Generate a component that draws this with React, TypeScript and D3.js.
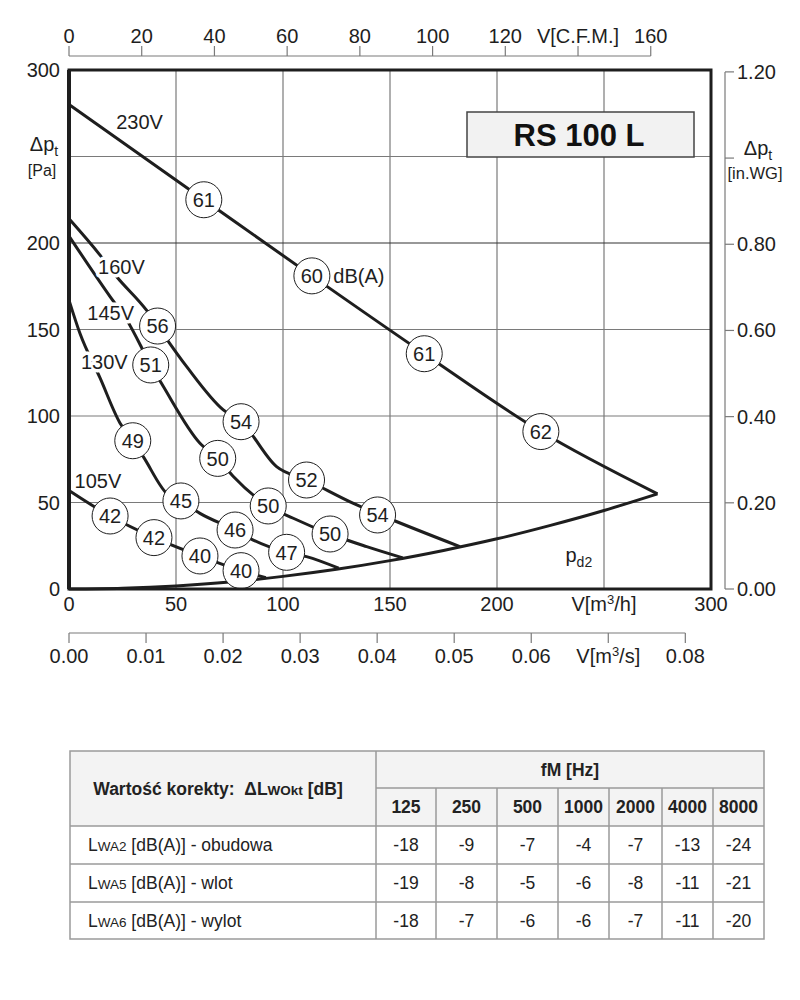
import * as d3 from 'd3'

// characteristic curves, V [m3/h] vs dp [Pa]
const curve230 = [[0, 280], [63, 225], [113.5, 181], [166, 136], [220.5, 91], [275, 55]]
const curve160 = [[0, 214], [14.5, 193], [22.3, 180.5], [36.3, 161], [41.4, 152], [55, 128.5], [72.1, 103.5], [80.4, 96.7], [97, 70.7], [111, 63], [132.9, 49.5], [144.2, 43.5], [182.7, 24.5]]
const curve145 = [[0, 204], [19.2, 169], [27, 155.5], [38.2, 129.5], [44.1, 117], [61.2, 84.2], [69.5, 75.5], [76.8, 65], [93.1, 48], [104.8, 40.9], [122, 31.8], [139.1, 24.5], [156, 18]]
const curve130 = [[0, 167], [5.1, 147.8], [14.5, 122], [23.8, 96], [29.8, 85.7], [34.7, 76.5], [45.6, 55.3], [52.3, 50.9], [61.2, 43.7], [77.6, 34.1], [86.1, 28.3], [101.7, 21.2], [111, 18.7], [126, 12]]
const curve105 = [[0, 57], [19.2, 42.2], [39.7, 29.7], [61.2, 19.1], [80.4, 10.6], [92, 6.5]]
const curvePd2 = [[0, 0], [25, 0.5], [50, 1.8], [75, 4], [100, 7.3], [125, 11.4], [150, 16.4], [175, 22.3], [200, 29], [225, 36.8], [250, 45.4], [275, 55]]

// noise markers [V, dp, dB(A)]
const markers230 = [[63, 225, 61], [113.5, 181, 60], [166, 136, 61], [220.5, 91, 62]]
const markers160 = [[41.4, 152, 56], [80.4, 96.7, 54], [111, 63, 52], [144.2, 42.8, 54]]
const markers145 = [[38.2, 129.5, 51], [69.5, 75.5, 50], [93.1, 48, 50], [122, 31.8, 50]]
const markers130 = [[29.8, 85.7, 49], [52.3, 50.9, 45], [77.6, 34.1, 46], [101.7, 21.2, 47]]
const markers105 = [[19.2, 42.2, 42], [39.7, 29.7, 42], [61.2, 19.1, 40], [80.4, 10.6, 40]]

// voltage labels [text, V, dp, knockout]
const voltLabels: [string, number, number, boolean][] = [
  ['230V', 33, 270, false],
  ['160V', 24.5, 186, true],
  ['145V', 19.5, 159.5, true],
  ['130V', 16.5, 131.5, true],
  ['105V', 13.5, 62.5, false],
]

const xTicks = [0, 50, 100, 150, 200, 250, 300]
const yTicks = [0, 50, 100, 150, 200, 250, 300]
const cfmTicks = [0, 20, 40, 60, 80, 100, 120, 140, 160]
const m3sTicks = [0, 0.01, 0.02, 0.03, 0.04, 0.05, 0.06, 0.07, 0.08]
const inwgTicks = [0, 0.2, 0.4, 0.6, 0.8, 1.0, 1.2]

// octave correction table
const freqs = ['125', '250', '500', '1000', '2000', '4000', '8000']
const rowNames = [['WA2', ' [dB(A)] - obudowa'], ['WA5', ' [dB(A)] - wlot'], ['WA6', ' [dB(A)] - wylot']]
const lwa2 = [-18, -9, -7, -4, -7, -13, -24]
const lwa5 = [-19, -8, -5, -6, -8, -11, -21]
const lwa6 = [-18, -7, -6, -6, -7, -11, -20]

const FONT = 'Liberation Sans, Arial, Helvetica, sans-serif'
const INK = '#1e1e1e'
const GRID = '#7a7a7a'
const FS = 20

export default function App() {
  const left = 69, right = 711, top = 70, bottom = 589
  const x = d3.scaleLinear().domain([0, 300]).range([left, right])
  const y = d3.scaleLinear().domain([0, 300]).range([bottom, top])
  const xCfm = d3.scaleLinear().domain([0, 300 / 1.699]).range([left, right])
  const xM3s = d3.scaleLinear().domain([0, 300 / 3600]).range([left, right])
  const yIn = d3.scaleLinear().domain([0, 300 / 249.09]).range([bottom, top])

  const line = d3.line<number[]>()
    .x(d => x(d[0]))
    .y(d => y(d[1]))
    .curve(d3.curveMonotoneX)

  const curves = [curvePd2, curve105, curve130, curve145, curve160, curve230]
  const markers = [...markers230, ...markers160, ...markers145, ...markers130, ...markers105]

  const topAxisY = 56
  const m3sAxisY = 633
  const rightAxisX = 725

  // table geometry
  const colEdges = [70, 376, 436, 497, 558, 609, 662, 713, 764]
  const rowEdges = [751, 788, 826, 864, 902, 939]
  const tableRows = [lwa2, lwa5, lwa6]
  const TFS = 17.5

  return (
    <svg width={800} height={1000} style={{ position: 'absolute', left: 0, top: 0, background: '#fff' }} fontFamily={FONT}>
      {/* grid */}
      {xTicks.slice(1, -1).map(t => (
        <line key={'gx' + t} x1={x(t)} x2={x(t)} y1={top} y2={bottom} stroke={GRID} strokeWidth={1.2} />
      ))}
      {yTicks.slice(1, -1).map(t => (
        <line key={'gy' + t} x1={left} x2={right} y1={y(t)} y2={y(t)} stroke={t === 200 ? '#333' : GRID} strokeWidth={1.2} />
      ))}

      {/* title box */}
      <rect x={467} y={112} width={227} height={45} fill="#f2f2f2" stroke="#444" strokeWidth={1.5} />
      <text x={579} y={135} dy="0.36em" textAnchor="middle" fontSize={31} fontWeight="bold" fill="#111">RS 100 L</text>

      {/* curves */}
      {curves.map((c, i) => (
        <path key={'c' + i} d={line(c) || ''} fill="none" stroke={INK} strokeWidth={3} strokeLinejoin="round" />
      ))}

      {/* voltage labels */}
      {voltLabels.map(([t, v, p, ko]) => (
        <text key={t} x={x(v)} y={y(p)} dy="0.35em" textAnchor="middle" fontSize={FS} fill={INK}
          stroke={ko ? '#fff' : 'none'} strokeWidth={ko ? 7 : 0} strokeLinejoin="round"
          style={{ paintOrder: 'stroke' }}>{t}</text>
      ))}

      {/* noise markers */}
      {markers.map(([v, p, db], i) => (
        <g key={'m' + i}>
          <circle cx={x(v)} cy={y(p)} r={18} fill="#fff" stroke={INK} strokeWidth={1} />
          <text x={x(v)} y={y(p)} dy="0.36em" textAnchor="middle" fontSize={FS} fill={INK}>{db}</text>
        </g>
      ))}
      <text x={x(123.5)} y={y(181)} dy="0.35em" fontSize={FS} fill={INK}>dB(A)</text>
      <text x={x(232)} y={y(15.5)} fontSize={FS} fill={INK}>p<tspan fontSize={14} dy={5}>d2</tspan></text>

      {/* frame */}
      <rect x={left} y={top} width={right - left} height={bottom - top} fill="none" stroke={INK} strokeWidth={3} />
      <line x1={left} x2={left} y1={top} y2={bottom} stroke={INK} strokeWidth={4} />

      {/* left axis labels */}
      {yTicks.filter(t => t !== 250).map(t => (
        <text key={'yl' + t} x={60} y={y(t)} dy="0.35em" textAnchor="end" fontSize={FS} fill={INK}>{t}</text>
      ))}
      <text x={44} y={144} dy="0.35em" textAnchor="middle" fontSize={FS} fill={INK}>Δp<tspan fontSize={14} dy={5}>t</tspan></text>
      <text x={42} y={170} dy="0.35em" textAnchor="middle" fontSize={16} fill={INK}>[Pa]</text>

      {/* bottom m3/h labels */}
      {xTicks.map(t => (
        <text key={'xl' + t} x={x(t)} y={604} dy="0.35em" textAnchor="middle" fontSize={FS} fill={INK}>
          {t === 250 ? <>V[m<tspan fontSize={13} dy={-7}>3</tspan><tspan dy={7}>/h]</tspan></> : t}
        </text>
      ))}

      {/* top CFM axis */}
      <line x1={xCfm(0)} x2={xCfm(160)} y1={topAxisY} y2={topAxisY} stroke={GRID} strokeWidth={1.2} />
      {cfmTicks.map(t => (
        <g key={'cf' + t}>
          <line x1={xCfm(t)} x2={xCfm(t)} y1={topAxisY} y2={topAxisY - 10} stroke={GRID} strokeWidth={1.2} />
          <text x={xCfm(t)} y={36} dy="0.35em" textAnchor="middle" fontSize={FS} fill={INK}>{t === 140 ? 'V[C.F.M.]' : t}</text>
        </g>
      ))}

      {/* bottom m3/s axis */}
      <line x1={xM3s(0)} x2={xM3s(0.08)} y1={m3sAxisY} y2={m3sAxisY} stroke={GRID} strokeWidth={1.2} />
      {m3sTicks.map(t => (
        <g key={'ms' + t}>
          <line x1={xM3s(t)} x2={xM3s(t)} y1={m3sAxisY} y2={m3sAxisY + 10} stroke={GRID} strokeWidth={1.2} />
          <text x={xM3s(t)} y={656} dy="0.35em" textAnchor="middle" fontSize={FS} fill={INK}>
            {Math.abs(t - 0.07) < 1e-9 ? <>V[m<tspan fontSize={13} dy={-7}>3</tspan><tspan dy={7}>/s]</tspan></> : t.toFixed(2)}
          </text>
        </g>
      ))}

      {/* right in.WG axis */}
      <line x1={rightAxisX} x2={rightAxisX} y1={yIn(1.2)} y2={yIn(0)} stroke={GRID} strokeWidth={1.2} />
      {inwgTicks.map(t => (
        <g key={'iw' + t}>
          <line x1={rightAxisX} x2={rightAxisX + 9} y1={yIn(t)} y2={yIn(t)} stroke={GRID} strokeWidth={1.2} />
          {Math.abs(t - 1.0) > 1e-9 && (
            <text x={rightAxisX + 12} y={yIn(t)} dy="0.35em" fontSize={FS} fill={INK}>{t.toFixed(2)}</text>
          )}
        </g>
      ))}
      <text x={758} y={148} dy="0.35em" textAnchor="middle" fontSize={FS} fill={INK}>Δp<tspan fontSize={14} dy={5}>t</tspan></text>
      <text x={755} y={173} dy="0.35em" textAnchor="middle" fontSize={16.5} fill={INK}>[in.WG]</text>

      {/* table */}
      <rect x={colEdges[0]} y={rowEdges[0]} width={colEdges[8] - colEdges[0]} height={rowEdges[2] - rowEdges[0]} fill="#f3f3f3" />
      <g stroke="#9a9a9a" strokeWidth={1.5} fill="none">
        <rect x={colEdges[0]} y={rowEdges[0]} width={colEdges[8] - colEdges[0]} height={rowEdges[5] - rowEdges[0]} />
        <line x1={colEdges[1]} x2={colEdges[8]} y1={rowEdges[1]} y2={rowEdges[1]} />
        {rowEdges.slice(2, 5).map(r => (
          <line key={'rl' + r} x1={colEdges[0]} x2={colEdges[8]} y1={r} y2={r} />
        ))}
        <line x1={colEdges[1]} x2={colEdges[1]} y1={rowEdges[0]} y2={rowEdges[5]} />
        {colEdges.slice(2, 8).map(c => (
          <line key={'cl' + c} x1={c} x2={c} y1={rowEdges[1]} y2={rowEdges[5]} />
        ))}
      </g>
      <text x={218} y={(rowEdges[0] + rowEdges[2]) / 2} dy="0.35em" textAnchor="middle" fontSize={TFS} fontWeight="bold" fill="#222" style={{ whiteSpace: 'pre' }}>
        {'Wartość korekty:  ΔL'}<tspan fontSize={13.5}>WOkt</tspan>{' [dB]'}
      </text>
      <text x={(colEdges[1] + colEdges[8]) / 2} y={(rowEdges[0] + rowEdges[1]) / 2} dy="0.35em" textAnchor="middle" fontSize={TFS} fontWeight="bold" fill="#222">fM [Hz]</text>
      {freqs.map((f, i) => (
        <text key={'f' + f} x={(colEdges[i + 1] + colEdges[i + 2]) / 2} y={(rowEdges[1] + rowEdges[2]) / 2} dy="0.35em" textAnchor="middle" fontSize={TFS} fontWeight="bold" fill="#222">{f}</text>
      ))}
      {tableRows.map((vals, r) => (
        <g key={'tr' + r}>
          <text x={88} y={(rowEdges[r + 2] + rowEdges[r + 3]) / 2} dy="0.35em" fontSize={TFS} fill="#222">
            L<tspan fontSize={13.5}>{rowNames[r][0]}</tspan>{rowNames[r][1]}
          </text>
          {vals.map((v, i) => (
            <text key={'v' + i} x={(colEdges[i + 1] + colEdges[i + 2]) / 2} y={(rowEdges[r + 2] + rowEdges[r + 3]) / 2} dy="0.35em" textAnchor="middle" fontSize={TFS} fill="#222">{v}</text>
          ))}
        </g>
      ))}
    </svg>
  )
}
